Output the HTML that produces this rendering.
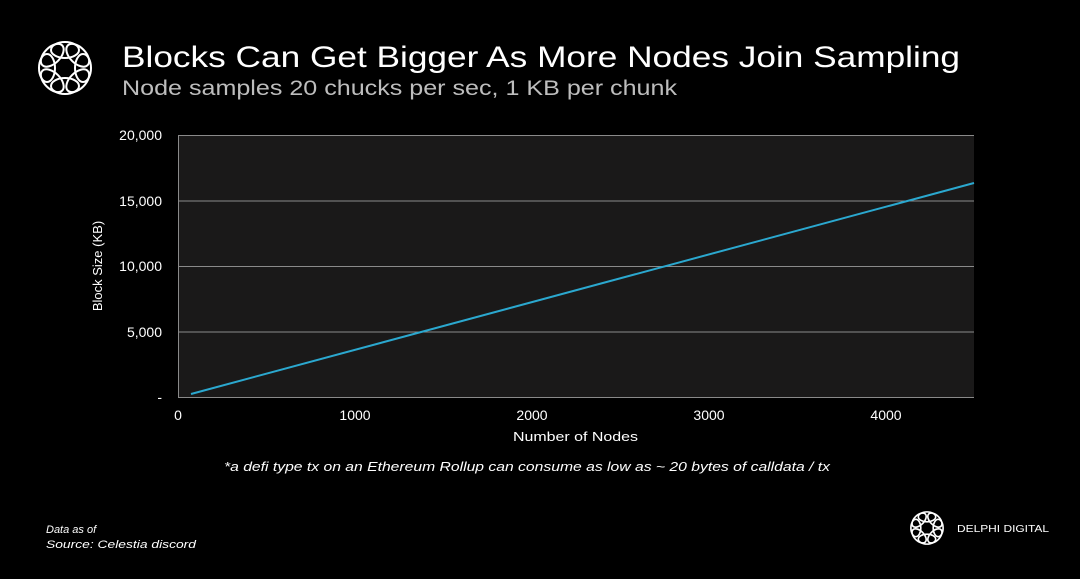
<!DOCTYPE html>
<html><head><style>
body{margin:0;background:#000;width:1080px;height:574px;overflow:hidden;font-family:"Liberation Sans",sans-serif;}
</style></head><body>
<svg width="1080" height="574" xmlns="http://www.w3.org/2000/svg">
<rect width="1080" height="574" fill="#000"/>
<g transform="translate(65,68)" fill="none" stroke="#fff" stroke-width="2">
  <ellipse cx="0" cy="-18" rx="14" ry="8" transform="rotate(0)"/>
  <ellipse cx="0" cy="-18" rx="14" ry="8" transform="rotate(45)"/>
  <ellipse cx="0" cy="-18" rx="14" ry="8" transform="rotate(90)"/>
  <ellipse cx="0" cy="-18" rx="14" ry="8" transform="rotate(135)"/>
  <ellipse cx="0" cy="-18" rx="14" ry="8" transform="rotate(180)"/>
  <ellipse cx="0" cy="-18" rx="14" ry="8" transform="rotate(225)"/>
  <ellipse cx="0" cy="-18" rx="14" ry="8" transform="rotate(270)"/>
  <ellipse cx="0" cy="-18" rx="14" ry="8" transform="rotate(315)"/>
</g>
<g transform="translate(927,528) scale(0.62)" fill="none" stroke="#fff" stroke-width="2.6">
  <ellipse cx="0" cy="-18" rx="14" ry="8" transform="rotate(0)"/>
  <ellipse cx="0" cy="-18" rx="14" ry="8" transform="rotate(45)"/>
  <ellipse cx="0" cy="-18" rx="14" ry="8" transform="rotate(90)"/>
  <ellipse cx="0" cy="-18" rx="14" ry="8" transform="rotate(135)"/>
  <ellipse cx="0" cy="-18" rx="14" ry="8" transform="rotate(180)"/>
  <ellipse cx="0" cy="-18" rx="14" ry="8" transform="rotate(225)"/>
  <ellipse cx="0" cy="-18" rx="14" ry="8" transform="rotate(270)"/>
  <ellipse cx="0" cy="-18" rx="14" ry="8" transform="rotate(315)"/>
</g>
<text x="957" y="532" fill="#fff" font-size="10" textLength="92" lengthAdjust="spacingAndGlyphs">DELPHI DIGITAL</text>
<text x="122" y="67" fill="#fff" font-size="30" textLength="838" lengthAdjust="spacingAndGlyphs">Blocks Can Get Bigger As More Nodes Join Sampling</text>
<text x="122" y="95" fill="#bdbdbd" font-size="21" textLength="555" lengthAdjust="spacingAndGlyphs">Node samples 20 chucks per sec, 1 KB per chunk</text>
<rect x="178" y="135" width="796" height="262" fill="#1a1919"/>
<g stroke="#8a8a8a" stroke-width="1">
<line x1="178" y1="135.5" x2="974" y2="135.5"/>
<line x1="178" y1="201" x2="974" y2="201"/>
<line x1="178" y1="266.5" x2="974" y2="266.5"/>
<line x1="178" y1="332" x2="974" y2="332"/>
<line x1="178" y1="397.5" x2="974" y2="397.5"/>
<line x1="178.5" y1="135" x2="178.5" y2="397"/>
</g>
<g fill="#fff" font-size="14" text-anchor="end">
<text x="162" y="140">20,000</text>
<text x="162" y="206">15,000</text>
<text x="162" y="271">10,000</text>
<text x="162" y="337">5,000</text>
<text x="162" y="402">-</text>
</g>
<g fill="#fff" font-size="14" text-anchor="middle">
<text x="178" y="420">0</text>
<text x="355" y="420">1000</text>
<text x="532" y="420">2000</text>
<text x="709" y="420">3000</text>
<text x="886" y="420">4000</text>
</g>
<text x="513" y="441" fill="#fff" font-size="13" textLength="125" lengthAdjust="spacingAndGlyphs">Number of Nodes</text>
<text transform="translate(102,266) rotate(-90)" fill="#fff" font-size="13" text-anchor="middle">Block Size (KB)</text>
<line x1="191" y1="394" x2="974" y2="183" stroke="#2ba8cf" stroke-width="2"/>
<text x="224" y="471" fill="#fff" font-size="13" font-style="italic" textLength="606" lengthAdjust="spacingAndGlyphs">*a defi type tx on an Ethereum Rollup can consume as low as ~ 20 bytes of calldata / tx</text>
<text x="46" y="533" fill="#fff" font-size="11" font-style="italic">Data as of</text>
<text x="46" y="548" fill="#fff" font-size="11" font-style="italic" textLength="150" lengthAdjust="spacingAndGlyphs">Source: Celestia discord</text>
</svg>
</body></html>
